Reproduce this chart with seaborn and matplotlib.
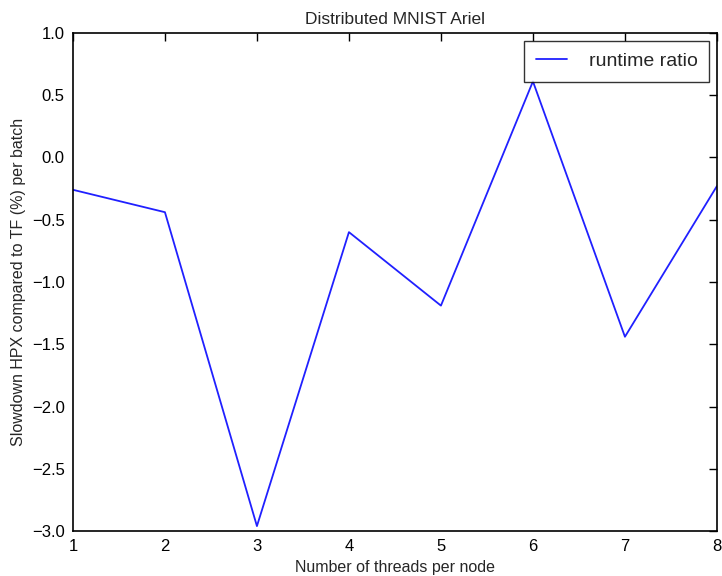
import pandas as pd
import matplotlib
matplotlib.use("Agg")
import matplotlib.pyplot as plt
import seaborn as sns

threads = [1, 2, 3, 4, 5, 6, 7, 8]
slowdown = [-0.26, -0.44, -2.96, -0.60, -1.19, 0.61, -1.44, -0.23]

sns.set_style("white")
plt.rcParams['font.family'] = ['Liberation Sans', 'DejaVu Sans']
plt.rcParams['font.size'] = 12

df = pd.DataFrame({"threads": threads, "runtime ratio": slowdown})

fig = plt.figure(figsize=(7.22, 5.76), dpi=100)
ax = fig.add_axes([0.101, 0.078, 0.892, 0.865])
sns.lineplot(data=df, x="threads", y="runtime ratio", ax=ax, color="#2020ff",
             linewidth=1.3, label="runtime ratio")

ax.set_xlim(1, 8)
ax.set_ylim(-3.0, 1.0)
ax.set_yticks([-3.0, -2.5, -2.0, -1.5, -1.0, -0.5, 0.0, 0.5, 1.0])
ax.set_xticks(threads)
ax.tick_params(direction="in", top=True, right=True, length=6, width=1,
               labelsize=12, pad=6, colors="black")
for s in ax.spines.values():
    s.set_color("black")
    s.set_linewidth(1.2)

ax.set_title("Distributed MNIST Ariel", fontsize=12.5)
ax.set_xlabel("Number of threads per node", fontsize=11.5)
ax.set_ylabel("Slowdown HPX compared to TF (%) per batch", fontsize=11.5)
leg = ax.legend(loc="upper right", fancybox=False, fontsize=14, handlelength=1.6,
                handletextpad=1.1, borderpad=0.6, borderaxespad=0.4)
leg.get_frame().set_edgecolor("black")
leg.get_frame().set_linewidth(1.0)

fig.savefig("out.png", dpi=100)
